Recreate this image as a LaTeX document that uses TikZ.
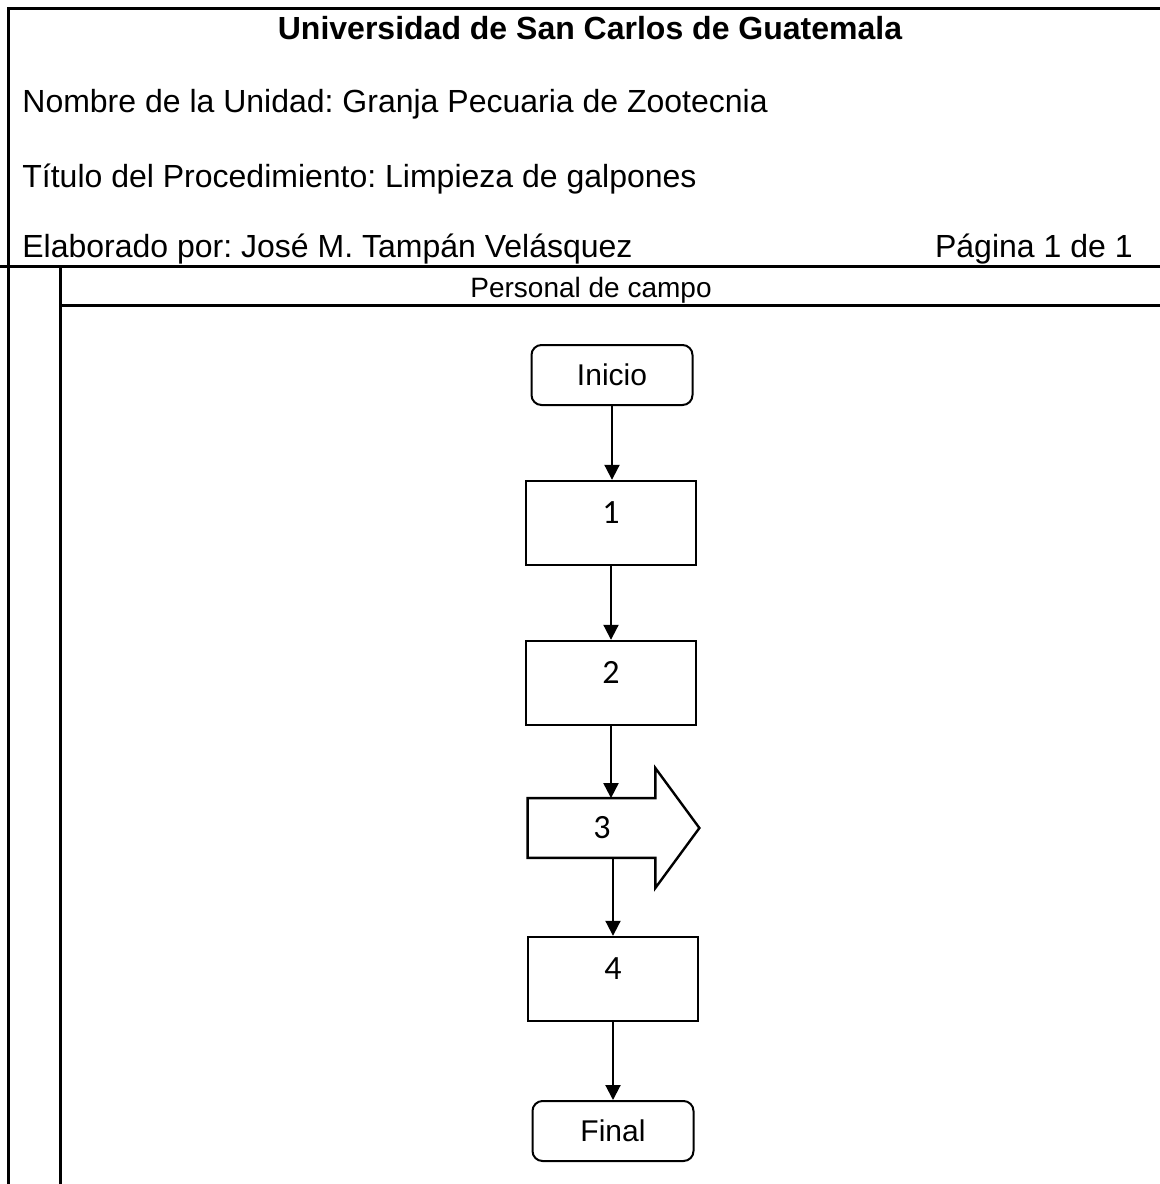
\documentclass[tikz,border=0pt]{standalone}
\usepackage{fontspec}
\setmainfont{Liberation Sans}
\newfontfamily\calib{Carlito}
\usepackage{tikz}
\usetikzlibrary{arrows.meta}
\frenchspacing

\tikzset{
  frame/.style={line width=1.5pt},
  txt/.style={inner sep=0pt, font=\fontsize{16}{19}\selectfont},
  terminal/.style={draw, line width=1pt, rounded corners=5pt,
    minimum width=80.5pt, minimum height=30pt, font=\fontsize{15}{18}\selectfont},
  procbox/.style={draw, line width=1.2pt, minimum width=85pt, minimum height=42pt,
    text height=8.5pt, text depth=8.5pt, font=\calib\fontsize{17}{20}\selectfont},
  shaft/.style={minimum width=74pt, minimum height=29.5pt, inner sep=0pt,
    font=\calib\fontsize{17}{20}\selectfont},
  flow/.style={->, line width=1pt}
}

\begin{document}
\begin{tikzpicture}[x=0.5pt, y=-0.5pt, >={Triangle[length=7.5pt,width=7.5pt]}]
\useasboundingbox (0,0) rectangle (1160,1184);
% marco
\draw[frame] (1170,8) -- (8,8) -- (8,1194);
\draw[frame] (0,266) -- (1170,266);
\draw[frame] (60,266) -- (60,1194);
\draw[frame] (60,305) -- (1170,305);
% encabezado
\node[txt, anchor=base, font=\fontsize{16}{19}\selectfont\bfseries] (univ) at (590,39) {Universidad de San Carlos de Guatemala};
\node[txt, anchor=base west] (unidad) at (22,112) {Nombre de la Unidad: Granja Pecuaria de Zootecnia};
\node[txt, anchor=base west] (titulo) at (22,187) {Título del Procedimiento: Limpieza de galpones};
\node[txt, anchor=base west] (autor) at (22,257) {Elaborado por: José M. Tampán Velásquez};
\node[txt, anchor=base east] (pagina) at (1133,257) {Página 1 de 1};
\node[txt, anchor=base, font=\fontsize{14}{17}\selectfont] (puesto) at (591,297) {Personal de campo};
% diagrama
\node[terminal] (inicio) at (612,375) {Inicio};
\node[procbox] (p1) at (611,523) {1};
\node[procbox] (p2) at (611,683) {2};
\node[shaft] (p3) at (602,828) {3};
\draw[line width=1.2pt, line join=miter]
  (p3.north west) -- ([xshift=-10.5pt]p3.north east) -- ++(0,-30)
  -- ([xshift=11.5pt]p3.east) -- ([xshift=-10.5pt,yshift=-15pt]p3.south east)
  -- ([xshift=-10.5pt]p3.south east) -- (p3.south west) -- cycle;
\node[procbox] (p4) at (613,979) {4};
\node[terminal] (final) at (613,1131) {Final};

\draw[flow] (inicio.south) -- (inicio.south |- p1.north);
\draw[flow] (p1.south) -- (p2.north);
\draw[flow] (p2.south) -- (p2.south |- p3.north);
\draw[flow] (p4.north |- p3.south) -- (p4.north);
\draw[flow] (p4.south) -- (p4.south |- final.north);
\end{tikzpicture}
\end{document}
